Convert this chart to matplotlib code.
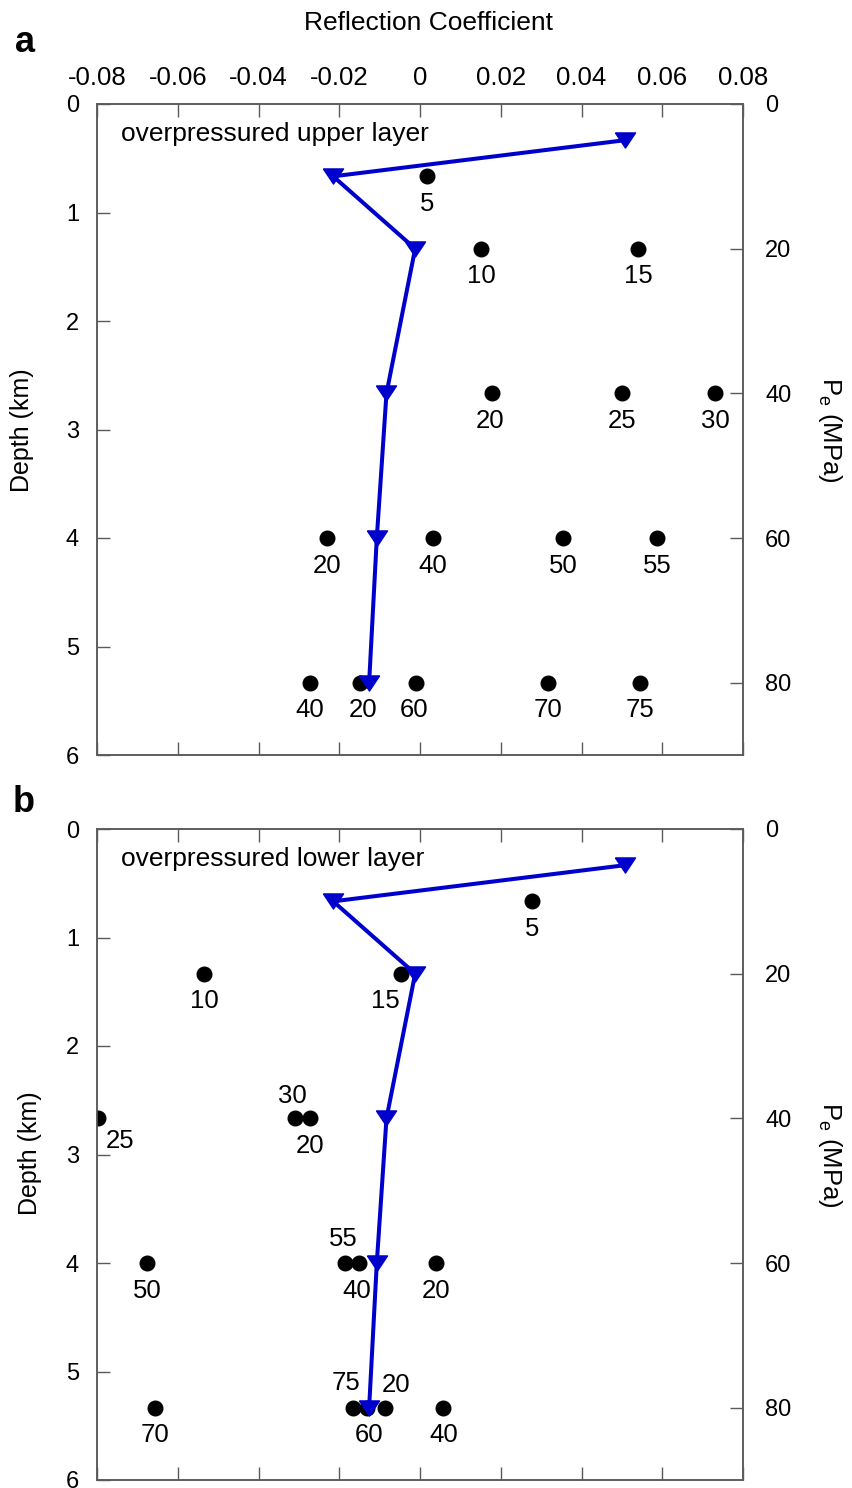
import matplotlib
matplotlib.use("Agg")
import matplotlib.pyplot as plt
import numpy as np

plt.rcParams['font.family'] = ['Liberation Sans', 'DejaVu Sans']
plt.rcParams['mathtext.fontset'] = 'custom'
plt.rcParams['mathtext.rm'] = 'Liberation Sans'
plt.rcParams['mathtext.it'] = 'Liberation Sans:italic'

# ---- data -------------------------------------------------------------
# effective pressure (MPa) -> depth (km) uses 15 MPa/km
PE_PER_KM = 15.0

# reference trend (blue line), shared by both panels
line_pe = [5, 10, 20, 40, 60, 80]
line_rc = [0.0508, -0.0215, -0.0012, -0.0083, -0.0107, -0.0126]

# panel a: overpressured upper layer
a_pe = [10, 20, 20, 40, 40, 40, 60, 60, 60, 60, 80, 80, 80, 80, 80]
a_rc = [0.0018, 0.0151, 0.0541, 0.0178, 0.0500, 0.0731,
        -0.0231, 0.0031, 0.0355, 0.0588,
        -0.0272, -0.0149, -0.0010, 0.0316, 0.0545]
a_lab = ['5', '10', '15', '20', '25', '30', '20', '40', '50', '55',
         '40', '20', '60', '70', '75']

# panel b: overpressured lower layer
b_pe = [10, 20, 20, 40, 40, 40, 60, 60, 60, 60, 80, 80, 80, 80, 80]
b_rc = [0.0277, -0.0535, -0.0047, -0.0797, -0.0310, -0.0272,
        -0.0676, -0.0186, -0.0151, 0.0040,
        -0.0656, -0.0167, -0.0132, -0.0087, 0.0058]
b_lab = ['5', '10', '15', '25', '30', '20', '50', '55', '40', '20',
         '70', '75', '60', '20', '40']

x_ticks = [-0.08, -0.06, -0.04, -0.02, 0, 0.02, 0.04, 0.06, 0.08]
x_ticklabels = ['-0.08', '-0.06', '-0.04', '-0.02', '0', '0.02', '0.04', '0.06', '0.08']
depth_ticks = [0, 1, 2, 3, 4, 5, 6]
pe_ticks = [0, 20, 40, 60, 80]

# label placement (offset in points from each dot)
BELOW = (0, -20)
a_off = [BELOW, BELOW, BELOW, (-1.5, -20), BELOW, BELOW,
         BELOW, BELOW, BELOW, BELOW,
         BELOW, (2, -20), (-1.5, -20), BELOW, BELOW]
b_off = [BELOW, BELOW, (-11, -20), (16, -16), (-1.5, 16), BELOW,
         BELOW, (-1.5, 17), (-2, -20), BELOW,
         BELOW, (-4.5, 18), (1.5, -20), (8, 16.5), BELOW]

# ---- styling ----------------------------------------------------------
BLUE = '#0000CC'
SPINE = '#5a5a5a'
FS = 19
W, H = 852, 1488
fig = plt.figure(figsize=(W / 100, H / 100), dpi=100)

tri = [(-1, 0.75), (1, 0.75), (0, -0.75), (-1, 0.75)]


def panel(rect, pe, rc, labs, offs, note, top_labels):
    ax = fig.add_axes(rect)
    ax.set_xlim(-0.08, 0.08)
    ax.set_ylim(6, 0)
    depth = np.array(pe) / PE_PER_KM
    ax.plot(rc, depth, 'o', color='black', ms=10.5, zorder=3)
    for x, y, t, o in zip(rc, depth, labs, offs):
        ax.annotate(t, (x, y), xytext=o, textcoords='offset points',
                    ha='center', va='center', fontsize=18.5)
    ldepth = np.array(line_pe) / PE_PER_KM
    ax.plot(line_rc, ldepth, '-', color=BLUE, lw=2.9, zorder=4,
            marker=tri, ms=14.5, mfc=BLUE, mec=BLUE)
    ax.text(0.037, 0.954, note, transform=ax.transAxes, fontsize=FS,
            ha='left', va='center')

    ax.set_xticks(x_ticks)
    ax.set_xticklabels(x_ticklabels)
    ax.set_yticks(depth_ticks)
    ax.tick_params(axis='x', direction='in', length=9.4, width=1.0,
                   color=SPINE, top=True, bottom=True,
                   labeltop=top_labels, labelbottom=False,
                   labelsize=18.5, pad=10)
    ax.tick_params(axis='y', direction='in', length=9.4, width=1.0,
                   color=SPINE, left=True, right=False,
                   labelsize=17, pad=13)
    for s in ax.spines.values():
        s.set_color(SPINE)
        s.set_linewidth(1.1)

    ax2 = ax.twinx()
    ax2.set_ylim(6 * PE_PER_KM, 0)
    ax2.set_yticks(pe_ticks)
    ax2.tick_params(axis='y', direction='in', length=9.4, width=1.0,
                    color=SPINE, labelsize=17, pad=16)
    for s in ax2.spines.values():
        s.set_color(SPINE)
        s.set_linewidth(1.1)
    return ax


ax_w = (743 - 97) / W
ax_h = (755 - 104) / H
ax_a = panel([97 / W, 1 - 755 / H, ax_w, ax_h], a_pe, a_rc, a_lab, a_off,
             'overpressured upper layer', True)
ax_b = panel([97 / W, 1 - 1480 / H, ax_w, ax_h], b_pe, b_rc, b_lab, b_off,
             'overpressured lower layer', False)

fig.text(428 / W, 1 - 23 / H, 'Reflection Coefficient', fontsize=FS,
         ha='center', va='center')
fig.text(25 / W, 1 - 42 / H, 'a', fontsize=26, fontweight='bold',
         ha='center', va='center')
fig.text(24 / W, 1 - 803 / H, 'b', fontsize=26, fontweight='bold',
         ha='center', va='center')
fig.text(22 / W, 1 - 430 / H, 'Depth (km)', fontsize=18, rotation=90,
         ha='center', va='center')
fig.text(30 / W, 1 - 1153 / H, 'Depth (km)', fontsize=18, rotation=90,
         ha='center', va='center')
fig.text(830 / W, 1 - 430 / H, r'P$_{\mathrm{e}}$ (MPa)', fontsize=18.5,
         rotation=270, ha='center', va='center')
fig.text(830 / W, 1 - 1155 / H, r'P$_{\mathrm{e}}$ (MPa)', fontsize=18.5,
         rotation=270, ha='center', va='center')

fig.savefig('out.png', dpi=100)
